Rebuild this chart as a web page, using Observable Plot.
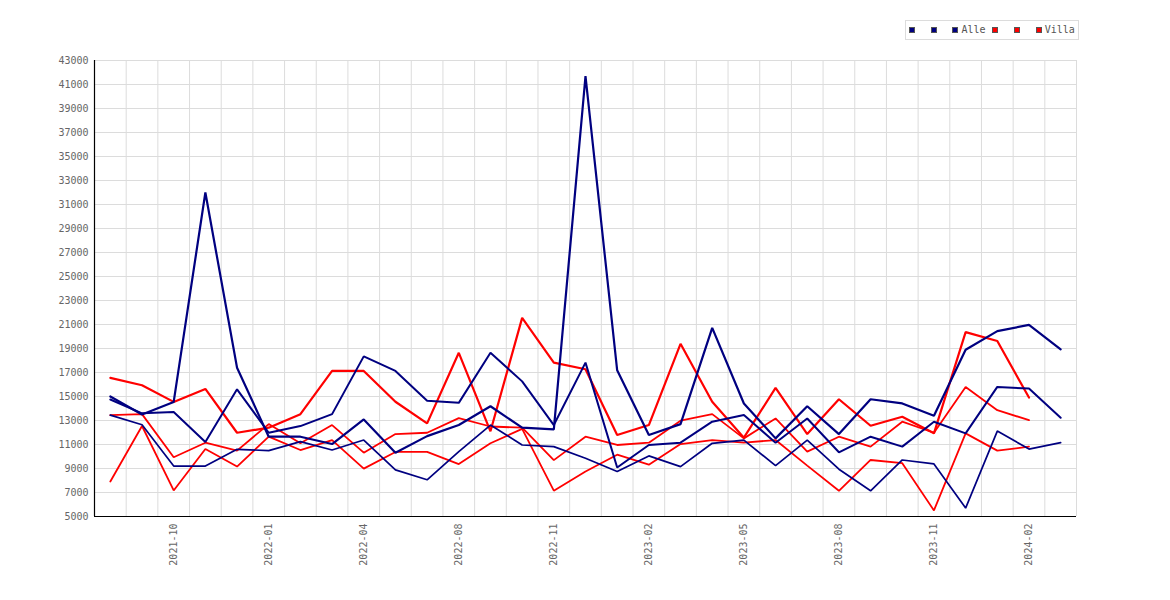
<!DOCTYPE html>
<html>
<head>
<meta charset="utf-8">
<script src="https://cdn.jsdelivr.net/npm/d3@7"></script>
<script src="https://cdn.jsdelivr.net/npm/@observablehq/plot@0.6"></script>
<style>
  html, body { margin: 0; padding: 0; background: #fff; }
  #wrap { position: relative; width: 1170px; height: 600px; }
  #legend {
    position: absolute; left: 905px; top: 20px; width: 169px; height: 18px;
    border: 1px solid #dcdcdc; background: #fff;
    display: flex; align-items: center; padding-left: 3px; box-sizing: content-box;
    font-family: "DejaVu Sans Mono", monospace; font-size: 10px; color: #555;
    white-space: pre; overflow: visible;
  }
  .item { display: flex; align-items: center; margin-right: 6.7px; }
  .sw { width: 4px; height: 4px; border: 1px solid #555; }
  .lb { margin-left: 3px; line-height: 10px; }
</style>
</head>
<body>
<div id="wrap"><div id="legend"></div></div>
<script>
const months = ["2021-08","2021-09","2021-10","2021-11","2021-12",
  "2022-01","2022-02","2022-03","2022-04","2022-05","2022-06",
  "2022-08","2022-09","2022-10","2022-11","2022-12",
  "2023-01","2023-02","2023-03","2023-04","2023-05","2023-06","2023-07","2023-08","2023-09","2023-10","2023-11","2023-12",
  "2024-01","2024-02","2024-03"];
const tickLabels = ["2021-10","2022-01","2022-04","2022-08","2022-11","2023-02","2023-05","2023-08","2023-11","2024-02"];
const yTicks = d3.range(5000, 43001, 2000);

const seriesNames = ["", "", "Alle", "", "", "Villa"];
const seriesColors = ["#000080", "#000080", "#000080", "#ff0000", "#ff0000", "#ff0000"];

const navy1 = [15000,13500,14550,32000,17400,11650,11650,11040,13090,10320,11700,12620,14190,12400,12260,41700,17180,11790,12700,20720,14420,11510,14190,11870,14770,14420,13390,18900,20450,20970,18930];
const navy2 = [14750,13600,13700,11200,15600,11980,12535,13530,18345,17130,14650,14470,18640,16260,12620,17820,9080,10960,11150,12900,13450,11150,13170,10350,11650,10820,12900,11930,15800,15660,13230];
const navyAlle = [13450,12650,9200,9200,10600,10490,11240,10540,11370,8890,8060,10400,12620,10960,10820,9850,8750,10050,9160,11100,11370,9240,11370,8940,7140,9710,9380,5700,12120,10620,11150];
const red1 = [16550,15940,14550,15630,11980,12400,13530,17130,17130,14560,12760,18640,12100,21550,17820,17270,11790,12620,19390,14560,11570,15720,11870,14770,12560,13310,11930,20360,19620,14910,null];
const red2 = [13450,13530,9940,11150,10490,12700,11100,12620,10320,11870,11980,13200,12500,12400,9700,11650,10960,11150,12980,13530,11510,13170,10410,11650,10820,12900,11980,15800,13860,13030,null];
const redVilla = [7920,12540,7170,10630,9160,11650,10540,11370,8990,10380,10380,9370,11100,12300,7150,8750,10150,9320,11040,11370,11150,11370,9240,7140,9710,9440,5510,11930,10490,10820,null];

const seriesValues = [navy1, navy2, navyAlle, red1, red2, redVilla];
const widths = [2.2, 2, 1.7, 2.2, 1.8, 1.8];

const tables = seriesValues.map((vals, s) =>
  vals.map((v, i) => ({series: s, i, value: v})).filter(d => d.value != null));

const tickIdx = tickLabels.map(t => months.indexOf(t));
const gridIdx = months.map((m, i) => i + 0.5);

// draw red first, navy on top
const drawOrder = [3, 4, 5, 0, 1, 2];

const chart = Plot.plot({
  width: 1170, height: 600,
  marginTop: 60, marginLeft: 94, marginRight: 94, marginBottom: 84,
  x: {type: "linear", domain: [-0.5, months.length - 0.5], label: null},
  y: {domain: [5000, 43000], label: null},
  style: {fontFamily: "DejaVu Sans Mono", fontSize: "10px", color: "#666", background: "#fff"},
  marks: [
    Plot.gridY(yTicks, {stroke: "#dcdcdc", strokeOpacity: 1}),
    Plot.ruleX(gridIdx, {stroke: "#dcdcdc", strokeOpacity: 1}),
    ...drawOrder.map(s => Plot.line(tables[s], {
      x: "i", y: "value", stroke: seriesColors[s], strokeWidth: widths[s], strokeLinejoin: "miter"
    })),
    Plot.ruleX([-0.5], {stroke: "#000", strokeWidth: 1.2}),
    Plot.ruleY([5000], {stroke: "#000", strokeWidth: 1.2}),
    Plot.axisY(yTicks, {tickSize: 0, tickPadding: 6, tickFormat: d => String(d), fill: "#666"}),
    Plot.axisX(tickIdx, {tickSize: 0, tickPadding: 7, tickRotate: -90, tickFormat: i => months[i], fill: "#666"})
  ]
});
document.getElementById("wrap").prepend(chart);

const legend = document.getElementById("legend");
seriesNames.forEach((name, s) => {
  const item = document.createElement("div");
  item.className = "item";
  const sw = document.createElement("div");
  sw.className = "sw";
  sw.style.background = seriesColors[s];
  const lb = document.createElement("span");
  lb.className = "lb";
  lb.textContent = name === "" ? "\u00a0" : name;
  item.appendChild(sw);
  item.appendChild(lb);
  legend.appendChild(item);
});
</script>
</body>
</html>
